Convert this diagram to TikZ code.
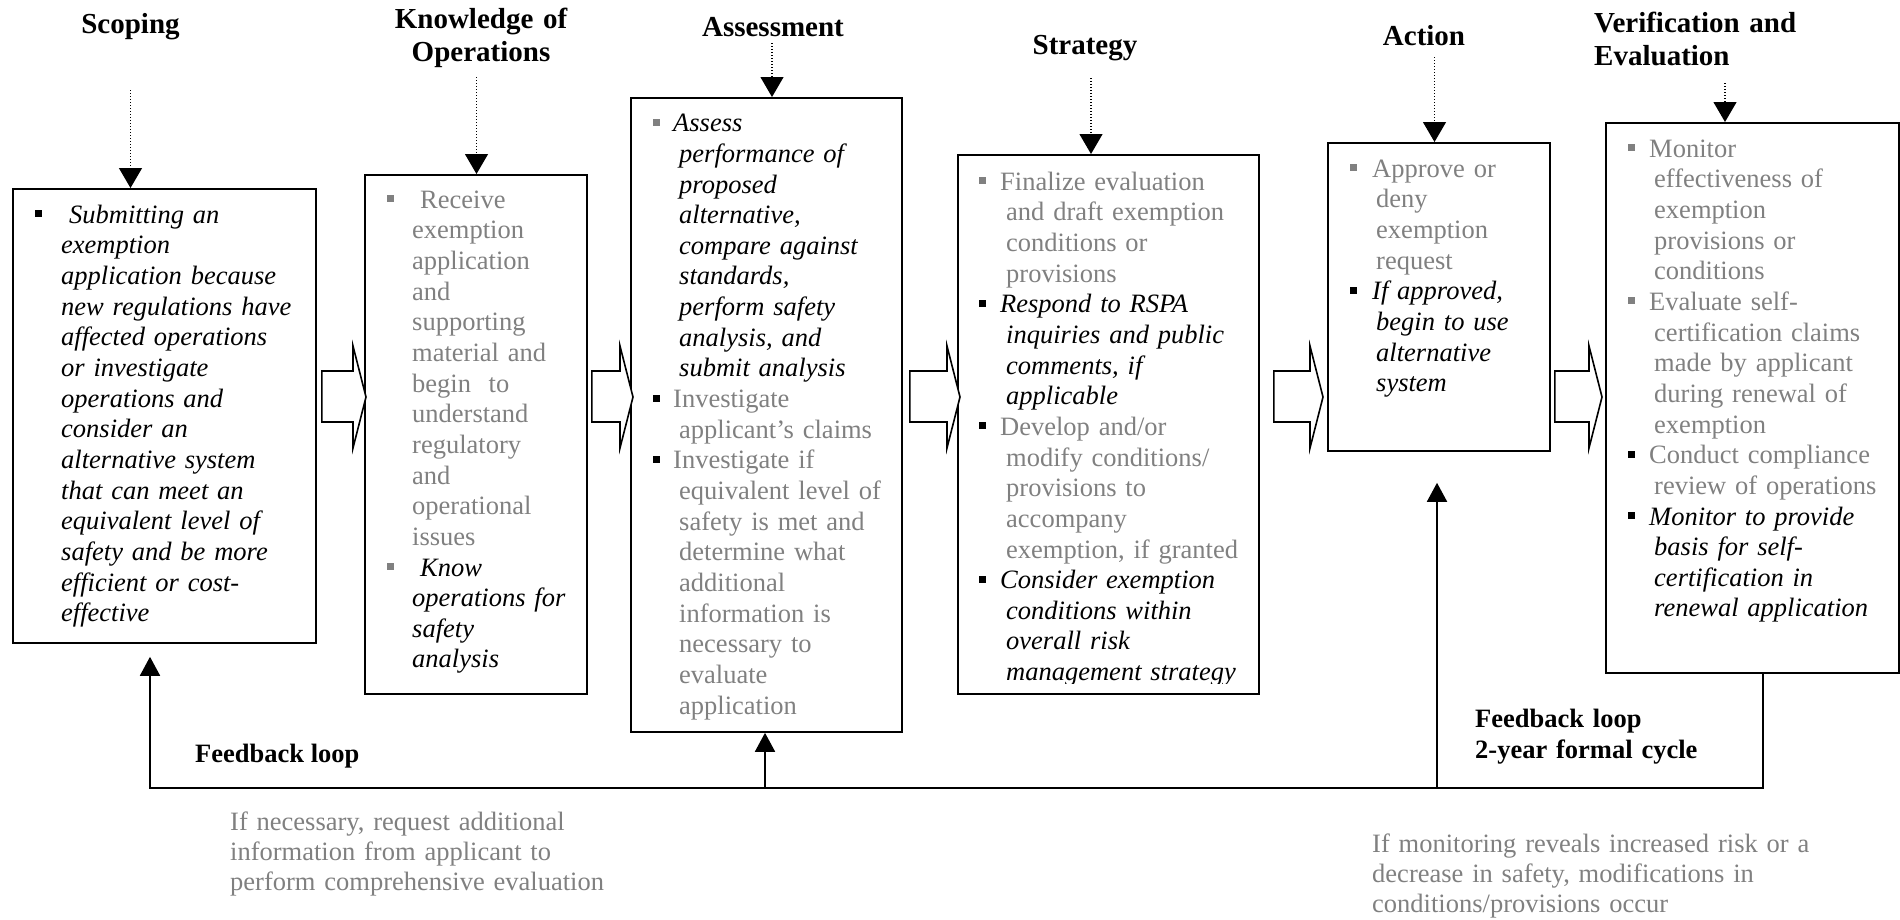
\documentclass[tikz,border=0pt]{standalone}
\usepackage{fontspec}
\setmainfont{Liberation Serif}
\usetikzlibrary{arrows.meta,calc}
\definecolor{txtgray}{RGB}{128,128,128}
\newlength\fo
\newlength\co
\newcommand\bsq[1]{\textcolor{#1}{\rule[6pt]{7pt}{7pt}}}
\newcommand\ff[2]{\makebox[\fo][l]{\rule{0pt}{24pt}\bsq{#1}}#2}
\newcommand\fl[2]{\par\makebox[\fo][l]{\bsq{#1}}#2}
\newcommand\cl[1]{\par\leavevmode\hspace*{\co}#1}
\newcommand\gt[1]{{\color{txtgray}#1}}
\newcommand\blockarrow[4]{%
  \draw[blockarr] let \p1=(#1.east), \p2=(#2.west) in
    (\x1#3pt,-371pt) -- (\x2#4pt-13pt,-371pt) -- (\x2#4pt-13pt,-346pt) --
    (\x2#4pt,-397pt) -- (\x2#4pt-13pt,-448pt) -- (\x2#4pt-13pt,-422pt) --
    (\x1#3pt,-422pt) -- cycle;}
\begin{document}
\begin{tikzpicture}[x=1pt,y=-1pt,
  box/.style={draw, line width=1.8pt, inner sep=0pt, anchor=north west},
  body/.style={inner sep=0pt, anchor=north west, text width=300pt, align=left,
    font=\fontsize{26.5}{30.65}\selectfont},
  ttl/.style={inner sep=0pt, font=\fontsize{29}{33}\selectfont\bfseries},
  fbl/.style={inner sep=0pt, font=\fontsize{26.5}{31}\selectfont\bfseries},
  captxt/.style={inner sep=0pt, anchor=north west, text width=460pt, align=left,
    text=txtgray, font=\fontsize{26.5}{30}\selectfont},
  dotarr/.style={line width=1.2pt, dash pattern=on 1.2pt off 1.8pt,
    -{Triangle[width=23pt,length=20pt]}},
  fbarr/.style={line width=1.8pt, -{Triangle[width=20pt,length=19pt]}},
  blockarr/.style={draw, line width=1.6pt, fill=white, line join=miter}]
\useasboundingbox (0,0) rectangle (1900,919);

% boxes
\node[box, minimum width=303pt, minimum height=454pt] (b1) at (12,188) {};
\node[box, minimum width=222pt, minimum height=519pt] (b2) at (364,174) {};
\node[box, minimum width=271pt, minimum height=634pt] (b3) at (630,97) {};
\node[box, minimum width=301pt, minimum height=539pt] (b4) at (957,154) {};
\node[box, minimum width=222pt, minimum height=308pt] (b5) at (1327,142) {};
\node[box, minimum width=293pt, minimum height=550pt] (b6) at (1605,122) {};

% titles
\node[ttl, anchor=base] (t1) at (130.5,33) {Scoping};
\node[ttl, anchor=north, text width=260pt, align=center] (t2) at (481,4)
  {\rule{0pt}{24pt}Knowledge of\\Operations};
\node[ttl, anchor=base] (t3) at (773,36) {Assessment};
\node[ttl, anchor=base] (t4) at (1085,54) {Strategy};
\node[ttl, anchor=base] (t5) at (1424,45) {Action};
\node[ttl, anchor=north west, text width=300pt, align=left] (t6) at (1594,8)
  {\rule{0pt}{24pt}Verification and\\Evaluation};

% dotted arrows
\coordinate (d1) at (130.5,90);
\coordinate (d2) at (476.5,77);
\coordinate (d3) at (772,43);
\coordinate (d4) at (1091,78);
\coordinate (d5) at (1434.5,57);
\coordinate (d6) at (1725,83);
\draw[dotarr] (d1) -- (d1 |- b1.north);
\draw[dotarr] (d2) -- (d2 |- b2.north);
\draw[dotarr] (d3) -- (d3 |- b3.north);
\draw[dotarr] (d4) -- (d4 |- b4.north);
\draw[dotarr] (d5) -- (d5 |- b5.north);
\draw[dotarr] (d6) -- (d6 |- b6.north);

% box texts
\node[body] (x1) at (35,199) {\setlength\fo{34pt}\setlength\co{26pt}%
\ff{black}{\textit{Submitting an}}%
\cl{\textit{exemption}}%
\cl{\textit{application because}}%
\cl{\textit{new regulations have}}%
\cl{\textit{affected operations}}%
\cl{\textit{or investigate}}%
\cl{\textit{operations and}}%
\cl{\textit{consider an}}%
\cl{\textit{alternative system}}%
\cl{\textit{that can meet an}}%
\cl{\textit{equivalent level of}}%
\cl{\textit{safety and be more}}%
\cl{\textit{efficient or cost-}}%
\cl{\textit{effective}}};

\node[body] (x2) at (387,184) {\setlength\fo{33pt}\setlength\co{25pt}%
\ff{txtgray}{\gt{Receive}}%
\cl{\gt{exemption}}%
\cl{\gt{application}}%
\cl{\gt{and}}%
\cl{\gt{supporting}}%
\cl{\gt{material and}}%
\cl{\gt{begin\ \ to}}%
\cl{\gt{understand}}%
\cl{\gt{regulatory}}%
\cl{\gt{and}}%
\cl{\gt{operational}}%
\cl{\gt{issues}}%
\fl{txtgray}{\textit{Know}}%
\cl{\textit{operations for}}%
\cl{\textit{safety}}%
\cl{\textit{analysis}}};

\node[body] (x3) at (653,107.5) {\setlength\fo{20pt}\setlength\co{26pt}%
\ff{txtgray}{\textit{Assess}}%
\cl{\textit{performance of}}%
\cl{\textit{proposed}}%
\cl{\textit{alternative,}}%
\cl{\textit{compare against}}%
\cl{\textit{standards,}}%
\cl{\textit{perform safety}}%
\cl{\textit{analysis, and}}%
\cl{\textit{submit analysis}}%
\fl{black}{\gt{Investigate}}%
\cl{\gt{applicant’s claims}}%
\fl{black}{\gt{Investigate if}}%
\cl{\gt{equivalent level of}}%
\cl{\gt{safety is met and}}%
\cl{\gt{determine what}}%
\cl{\gt{additional}}%
\cl{\gt{information is}}%
\cl{\gt{necessary to}}%
\cl{\gt{evaluate}}%
\cl{\gt{application}}};

\begin{scope}
\clip (b4.north west) rectangle ($(b4.south east)+(0,-11)$);
\node[body] (x4) at (979,166) {\setlength\fo{21pt}\setlength\co{27pt}%
\ff{txtgray}{\gt{Finalize evaluation}}%
\cl{\gt{and draft exemption}}%
\cl{\gt{conditions or}}%
\cl{\gt{provisions}}%
\fl{black}{\textit{Respond to RSPA}}%
\cl{\textit{inquiries and public}}%
\cl{\textit{comments, if}}%
\cl{\textit{applicable}}%
\fl{black}{\gt{Develop and/or}}%
\cl{\gt{modify conditions/}}%
\cl{\gt{provisions to}}%
\cl{\gt{accompany}}%
\cl{\gt{exemption, if granted}}%
\fl{black}{\textit{Consider exemption}}%
\cl{\textit{conditions within}}%
\cl{\textit{overall risk}}%
\cl{\textit{management strategy}}};
\end{scope}

\node[body] (x5) at (1350,153) {\setlength\fo{22pt}\setlength\co{26pt}%
\ff{txtgray}{\gt{Approve or}}%
\cl{\gt{deny}}%
\cl{\gt{exemption}}%
\cl{\gt{request}}%
\fl{black}{\textit{If approved,}}%
\cl{\textit{begin to use}}%
\cl{\textit{alternative}}%
\cl{\textit{system}}};

\node[body] (x6) at (1628,133) {\setlength\fo{21pt}\setlength\co{26pt}%
\ff{txtgray}{\gt{Monitor}}%
\cl{\gt{effectiveness of}}%
\cl{\gt{exemption}}%
\cl{\gt{provisions or}}%
\cl{\gt{conditions}}%
\fl{txtgray}{\gt{Evaluate self-}}%
\cl{\gt{certification claims}}%
\cl{\gt{made by applicant}}%
\cl{\gt{during renewal of}}%
\cl{\gt{exemption}}%
\fl{black}{\gt{Conduct compliance}}%
\cl{\gt{review of operations}}%
\fl{black}{\textit{Monitor to provide}}%
\cl{\textit{basis for self-}}%
\cl{\textit{certification in}}%
\cl{\textit{renewal application}}};

% block arrows
\blockarrow{b1}{b2}{+5}{+2}
\blockarrow{b2}{b3}{+4}{+3}
\blockarrow{b3}{b4}{+7}{+3}
\blockarrow{b4}{b5}{+14}{-4}
\blockarrow{b5}{b6}{+4}{-3}

% feedback loop
\coordinate (fL) at (150,788);
\coordinate (fM) at (765,788);
\coordinate (fA) at (1437,788);
\coordinate (fR) at (1763,788);
\draw[fbarr] (fR |- b6.south) -- (fR) -- (fL) -- ($(fL |- b1.south)+(0,13)$);
\draw[fbarr] (fM) -- (fM |- b3.south);
\draw[fbarr] (fA) -- ($(fA |- b5.south)+(0,31)$);

% labels
\node[fbl, anchor=base west] (fb1) at (195,762) {Feedback loop};
\node[fbl, anchor=north west, text width=300pt, align=left] (fb2) at (1475,703)
  {\rule{0pt}{24pt}Feedback loop\\2-year formal cycle};
\node[captxt] (c1) at (230,806)
  {\rule{0pt}{24pt}If necessary, request additional\\information from applicant to\\perform comprehensive evaluation};
\node[captxt] (c2) at (1372,828)
  {\rule{0pt}{24pt}If monitoring reveals increased risk or a\\decrease in safety, modifications in\\conditions/provisions occur};
\end{tikzpicture}
\end{document}
